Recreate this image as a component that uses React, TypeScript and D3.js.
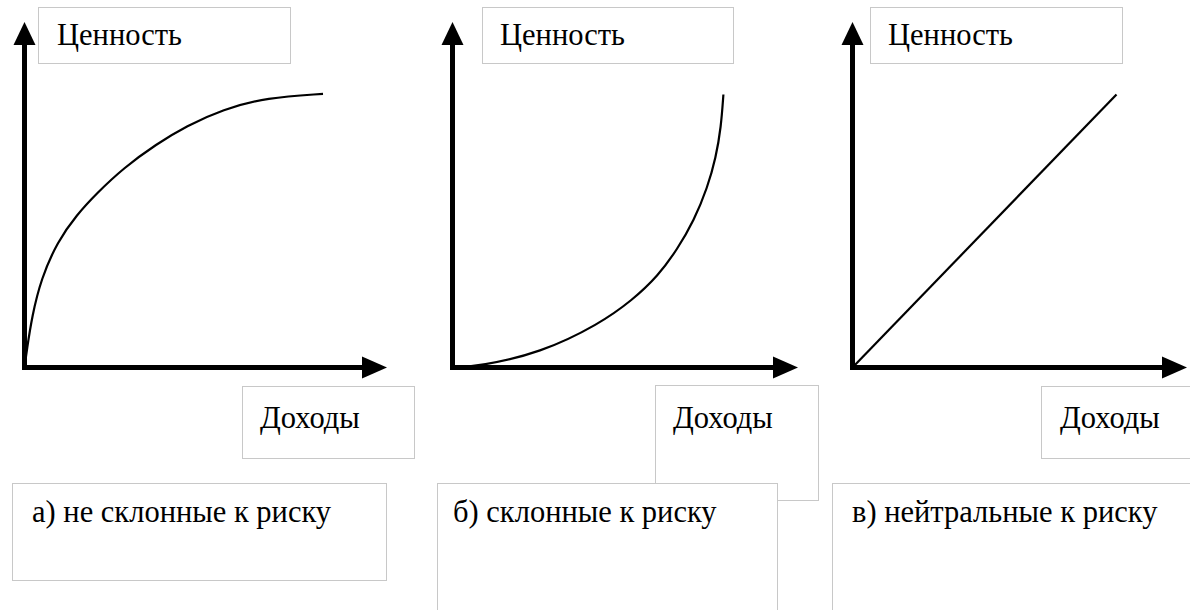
import React from "react";
import * as d3 from "d3";

// ---- data (income, value) in abstract units 0..10 ----
const riskAverseIncome = [0, 0.08, 0.25, 0.55, 1.1, 1.75, 2.4, 3.3, 4.4, 5.4, 6.6, 8.08, 9.95];
const riskAverseValue = [0, 0.6, 1.7, 2.95, 4.2, 5.1, 5.8, 6.65, 7.45, 8.05, 8.6, 9.0, 9.12];

const riskSeekingIncome = [0, 0.92, 2.92, 4.9, 6.0, 6.85, 7.5, 8.05, 8.5, 8.78, 8.95, 9.03];
const riskSeekingValue = [0, 0.05, 0.48, 1.45, 2.25, 3.05, 3.95, 4.9, 6.0, 7.0, 8.0, 9.1];

const riskNeutralIncome = [0, 8.8];
const riskNeutralValue = [0, 9.1];

const yLabel = "Ценность";
const xLabel = "Доходы";
const captions = ["а) не склонные к риску", "б) склонные к риску", "в) нейтральные к риску"];

const FONT = "'Liberation Serif', Tinos, 'Times New Roman', 'DejaVu Serif', serif";
const BOX = "#c8c8c8";

type Panel = {
  ox: number;
  yTip: number;
  xTip: number;
  xs: number[];
  ys: number[];
  curve: d3.CurveFactory;
  yBox: [number, number, number, number];
  yText: [number, number];
  xBox: [number, number, number, number];
  xText: [number, number];
  capBox: [number, number, number, number];
  capText: [number, number];
};

const panels: Panel[] = [
  {
    ox: 24.5, yTip: 22, xTip: 387,
    xs: riskAverseIncome, ys: riskAverseValue, curve: d3.curveBasis,
    yBox: [38, 7, 252, 56], yText: [57, 45],
    xBox: [242, 386, 172, 72], xText: [260, 428],
    capBox: [12, 483, 374, 97], capText: [32, 522],
  },
  {
    ox: 452.5, yTip: 22, xTip: 798,
    xs: riskSeekingIncome, ys: riskSeekingValue, curve: d3.curveBasis,
    yBox: [482, 7, 251, 56], yText: [500, 45],
    xBox: [655, 385, 163, 115], xText: [673, 428],
    capBox: [437, 483, 340, 140], capText: [453, 522],
  },
  {
    ox: 852.5, yTip: 22, xTip: 1187,
    xs: riskNeutralIncome, ys: riskNeutralValue, curve: d3.curveLinear,
    yBox: [870, 7, 252, 56], yText: [888, 45],
    xBox: [1041, 386, 160, 72], xText: [1060, 428],
    capBox: [832, 483, 380, 140], capText: [852, 522],
  },
];

const AXIS_Y = 367.5;
const textStyle: React.CSSProperties = { fontFamily: FONT, fontSize: "30.5px" };

function PanelView({ p }: { p: Panel }) {
  const x = d3.scaleLinear().domain([0, 10]).range([p.ox, p.ox + 300]);
  const y = d3.scaleLinear().domain([0, 10]).range([AXIS_Y, AXIS_Y - 300]);
  const pts: [number, number][] = p.xs.map((v, i) => [v, p.ys[i]]);
  const line = d3
    .line<[number, number]>()
    .x((d) => x(d[0]))
    .y((d) => y(d[1]))
    .curve(p.curve);
  const head = 23;
  const half = 11;
  return (
    <g>
      <path d={line(pts) || ""} fill="none" stroke="#000" strokeWidth={2.2} />
      <path
        d={`M${p.ox},${p.yTip + head - 1} L${p.ox},${AXIS_Y} L${p.xTip - head + 1},${AXIS_Y}`}
        fill="none"
        stroke="#000"
        strokeWidth={5}
        strokeLinejoin="miter"
      />
      <path
        d={`M${p.ox},${p.yTip} L${p.ox - half},${p.yTip + head} L${p.ox + half},${p.yTip + head} Z`}
        fill="#000"
      />
      <path
        d={`M${p.xTip},${AXIS_Y} L${p.xTip - head - 2},${AXIS_Y - half} L${p.xTip - head - 2},${AXIS_Y + half} Z`}
        fill="#000"
      />
      <rect x={p.yBox[0] + 0.5} y={p.yBox[1] + 0.5} width={p.yBox[2]} height={p.yBox[3]} fill="#fff" stroke={BOX} />
      <text x={p.yText[0]} y={p.yText[1]} style={textStyle} fill="#000">
        {yLabel}
      </text>
    </g>
  );
}

export default function App() {
  return (
    <svg
      width={1190}
      height={610}
      style={{ position: "absolute", left: 0, top: 0, background: "#fff" }}
    >
      <rect x={0} y={0} width={1190} height={610} fill="#fff" />
      {panels.map((p, i) => (
        <PanelView key={i} p={p} />
      ))}
      {panels.map((p, i) => (
        <g key={"x" + i}>
          <rect x={p.xBox[0] + 0.5} y={p.xBox[1] + 0.5} width={p.xBox[2]} height={p.xBox[3]} fill="#fff" stroke={BOX} />
          <text x={p.xText[0]} y={p.xText[1]} style={textStyle} fill="#000">
            {xLabel}
          </text>
        </g>
      ))}
      {panels.map((p, i) => (
        <g key={"c" + i}>
          <rect x={p.capBox[0] + 0.5} y={p.capBox[1] + 0.5} width={p.capBox[2]} height={p.capBox[3]} fill="#fff" stroke={BOX} />
          <text x={p.capText[0]} y={p.capText[1]} style={textStyle} fill="#000">
            {captions[i]}
          </text>
        </g>
      ))}
    </svg>
  );
}
